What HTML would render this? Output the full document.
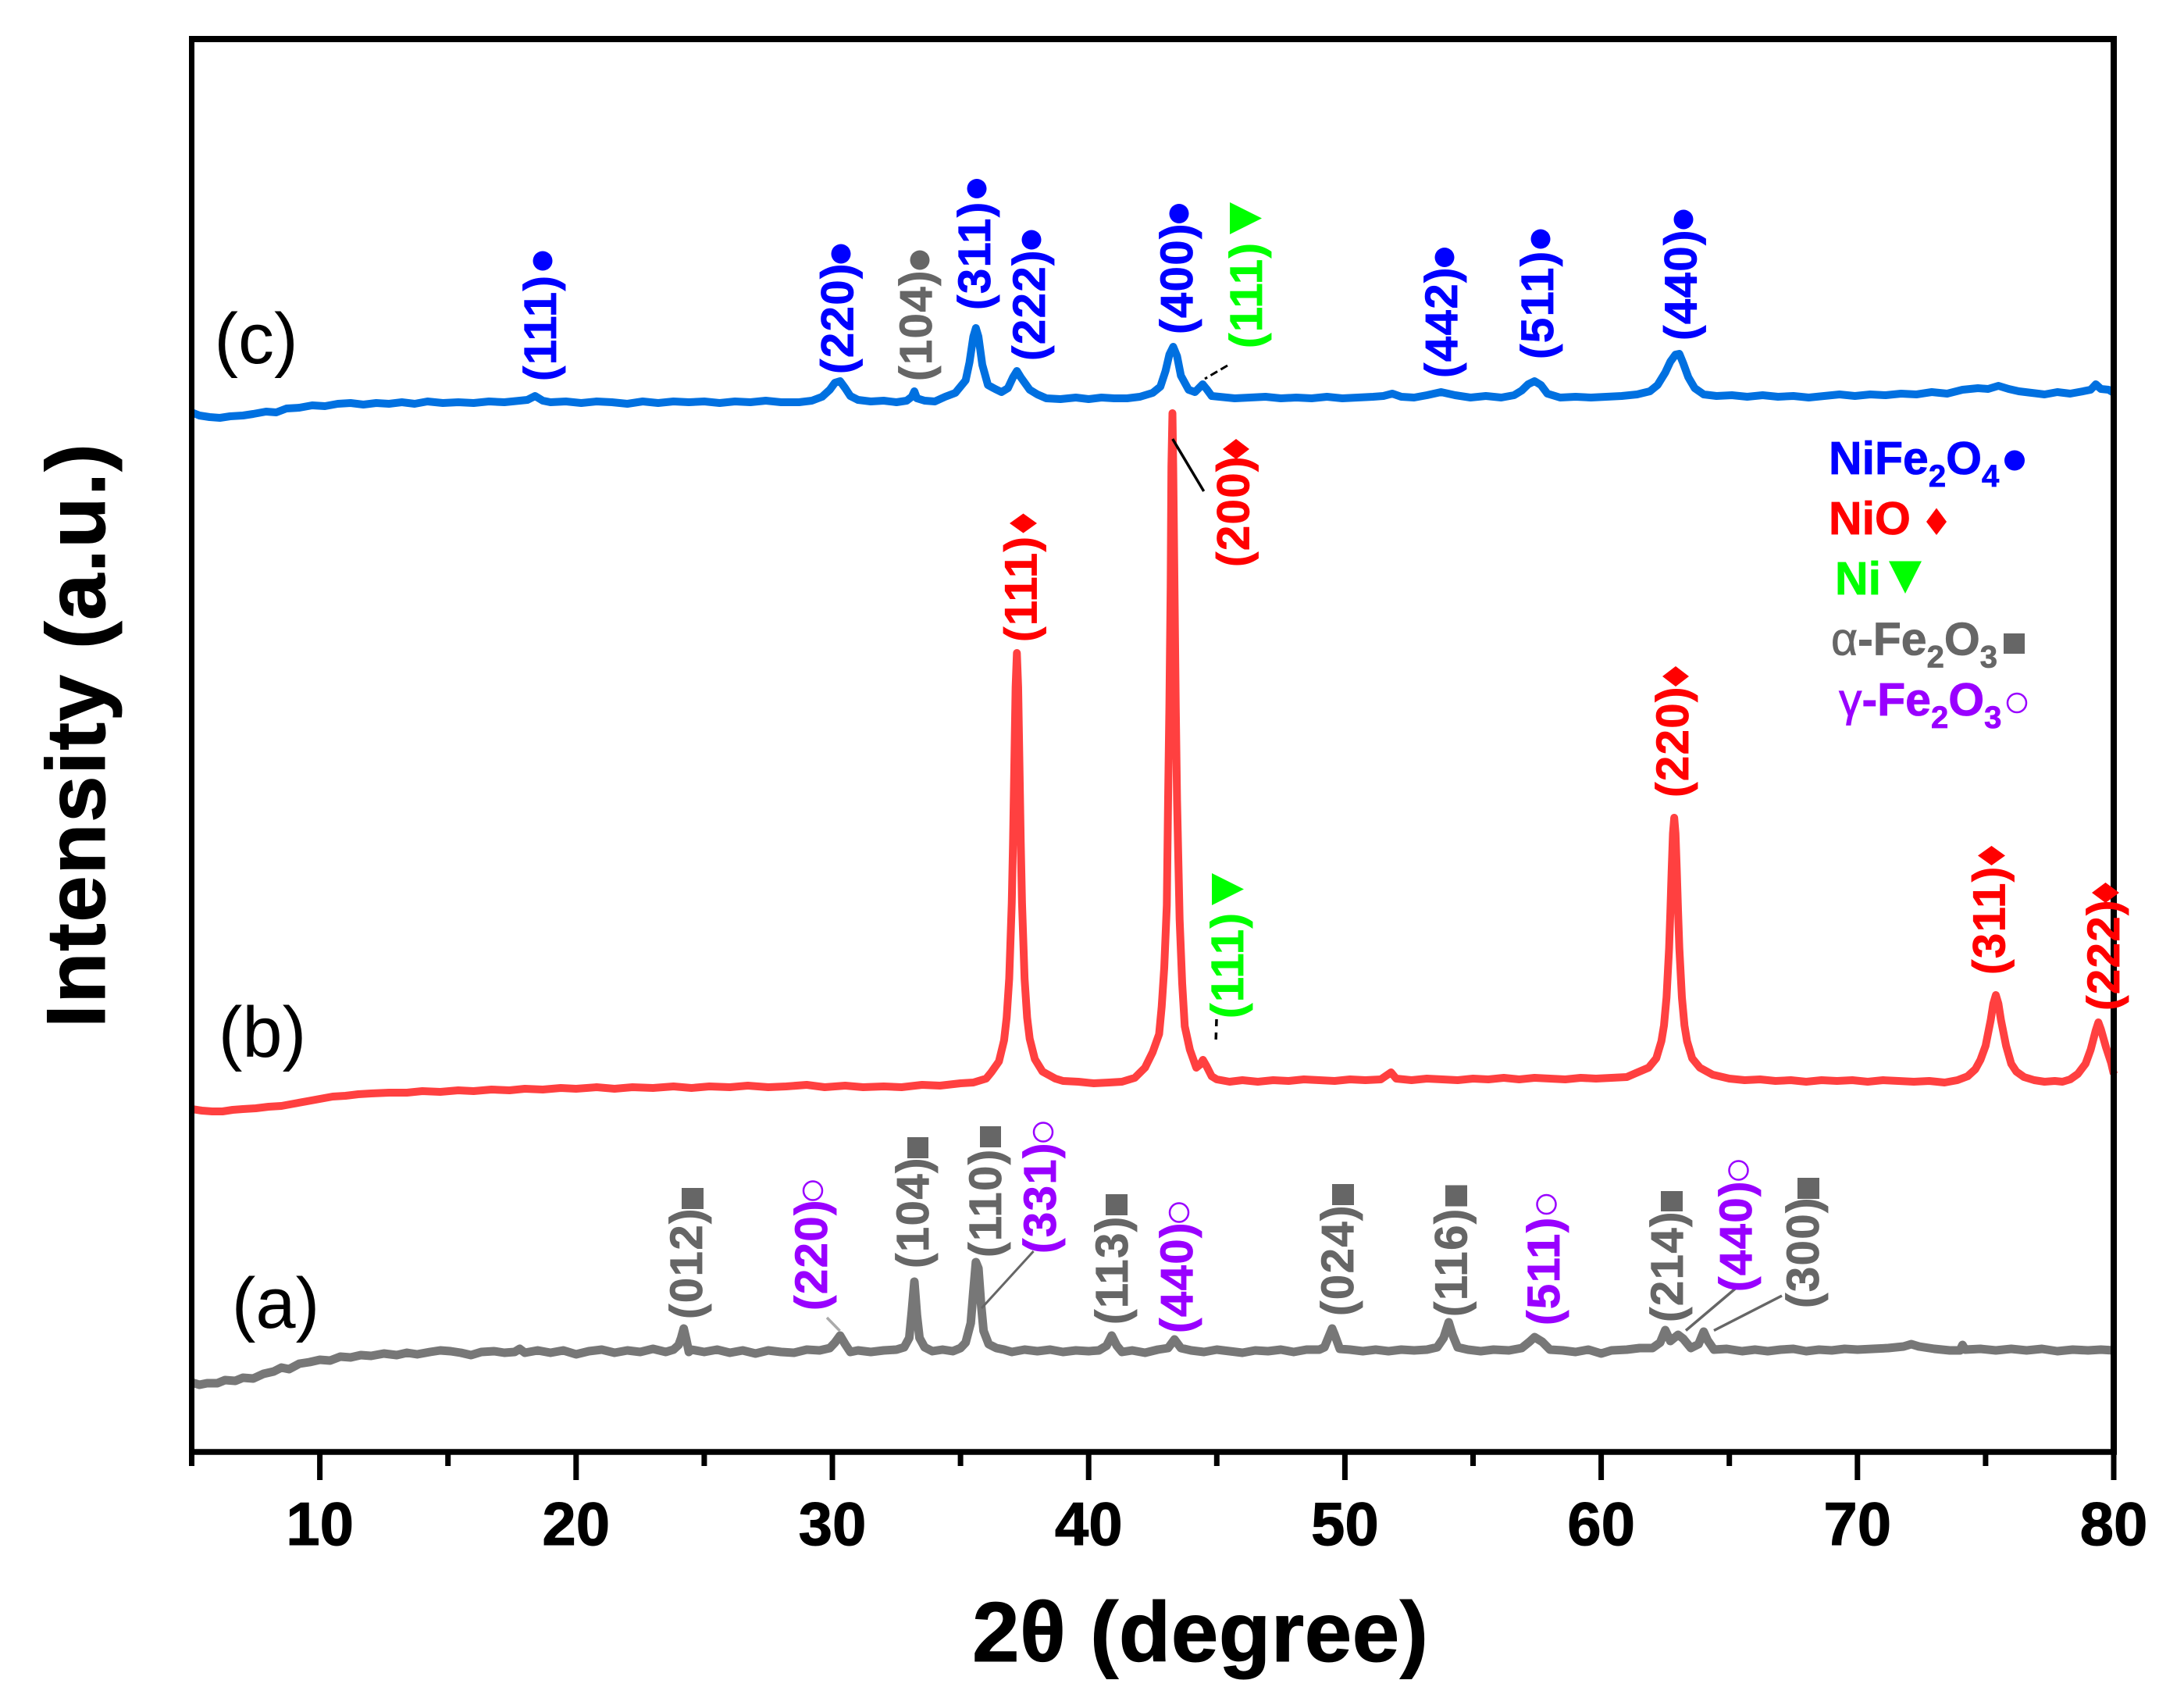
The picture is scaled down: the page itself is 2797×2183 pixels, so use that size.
<!DOCTYPE html>
<html lang="en">
<head>
<meta charset="utf-8">
<title>XRD patterns</title>
<style>
html,body{margin:0;padding:0;background:#fff;width:2797px;height:2183px;overflow:hidden}
svg{display:block}
text{font-family:"Liberation Sans",sans-serif;font-weight:bold}
.pk{font-size:58px;letter-spacing:1.5px;stroke-width:.8px}
.bl{fill:#0000ff;stroke:#0000ff}.rd{fill:#ff0000;stroke:#ff0000}.gr{fill:#00ff00;stroke:#00ff00}.gy{fill:#666666;stroke:#666666}.pu{fill:#9900ff;stroke:#9900ff}
circle.bl,circle.gy,rect.gy,polygon.rd,polygon.gr,.leg{stroke-width:0}
.ring{fill:none;stroke:#9900ff;stroke-width:2.5}
.sub{font-size:40px}
.leg{font-size:59px;stroke-width:.8px}
.panel{font-size:92px;font-weight:normal;fill:#000;text-anchor:middle}
.ax-title{stroke:#000;stroke-width:1px}
</style>
</head>
<body>
<svg id="chart" xmlns="http://www.w3.org/2000/svg" width="2797" height="2183" viewBox="0 0 2797 2183">
<rect width="2797" height="2183" fill="#fff"/>
<g id="series"></g>
<g id="axes"></g>

<text class="ax-title" x="1245" y="2127" font-size="109" textLength="584" lengthAdjust="spacing">2θ (degree)</text>
<text class="ax-title" transform="translate(134,1316) rotate(-90)" font-size="107" textLength="748" lengthAdjust="spacing">Intensity (a.u.)</text>

<text class="panel" x="353" y="1700">(a)</text>
<text class="panel" x="336" y="1353">(b)</text>
<text class="panel" x="328" y="465">(c)</text>

<!-- leader lines -->
<g fill="none">
<line x1="1257" y1="1675" x2="1323.6" y2="1602" stroke="#666" stroke-width="3"/>
<line x1="1059" y1="1687" x2="1075.6" y2="1704" stroke="#aaa" stroke-width="3.5"/>
<line x1="2227" y1="1646" x2="2159" y2="1703.5" stroke="#666" stroke-width="3.5"/>
<line x1="2282" y1="1659" x2="2195" y2="1703.5" stroke="#666" stroke-width="3.5"/>
<line x1="1501.7" y1="562" x2="1541.7" y2="629" stroke="#000" stroke-width="3.5"/>
<line x1="1572" y1="468" x2="1543" y2="485" stroke="#000" stroke-width="3" stroke-dasharray="10 5"/>
<line x1="1558" y1="1305" x2="1557" y2="1337" stroke="#000" stroke-width="3.5" stroke-dasharray="9 8"/>
</g>

<!-- peak labels, pattern (a) -->
<g>
<text class="pk gy" transform="translate(899,1689) rotate(-90)">(012)</text>
<rect class="gy" x="873" y="1521" width="28" height="27"/>
<text class="pk pu" transform="translate(1059,1678) rotate(-90)">(220)</text>
<circle class="ring" cx="1041" cy="1524.5" r="12"/>
<text class="pk gy" transform="translate(1189,1624) rotate(-90)">(104)</text>
<rect class="gy" x="1162" y="1456" width="27" height="27"/>
<text class="pk gy" transform="translate(1282,1610) rotate(-90)">(110)</text>
<rect class="gy" x="1255" y="1442" width="27" height="27"/>
<text class="pk pu" transform="translate(1352,1605) rotate(-90)">(331)</text>
<circle class="ring" cx="1336" cy="1449.5" r="12"/>
<text class="pk gy" transform="translate(1444,1696) rotate(-90)">(113)</text>
<rect class="gy" x="1416" y="1529" width="28" height="27"/>
<text class="pk pu" transform="translate(1527,1707) rotate(-90)">(440)</text>
<circle class="ring" cx="1510" cy="1552.5" r="12"/>
<text class="pk gy" transform="translate(1733,1685) rotate(-90)">(024)</text>
<rect class="gy" x="1706" y="1516" width="28" height="27"/>
<text class="pk gy" transform="translate(1878.5,1686) rotate(-90)">(116)</text>
<rect class="gy" x="1851" y="1517.5" width="28" height="27"/>
<text class="pk pu" transform="translate(1997,1697) rotate(-90)">(511)</text>
<circle class="ring" cx="1980.5" cy="1542" r="12"/>
<text class="pk gy" transform="translate(2155,1693) rotate(-90)">(214)</text>
<rect class="gy" x="2127" y="1525" width="28" height="26"/>
<text class="pk pu" transform="translate(2243,1654) rotate(-90)">(440)</text>
<circle class="ring" cx="2226.5" cy="1498.5" r="12"/>
<text class="pk gy" transform="translate(2329,1675) rotate(-90)">(300)</text>
<rect class="gy" x="2302" y="1508" width="28" height="27"/>
</g>

<!-- peak labels, pattern (b) -->
<g>
<text class="pk rd" transform="translate(1327.5,822) rotate(-90)">(111)</text>
<polygon class="rd" points="1293,670 1310.5,657.5 1328,670 1310.5,682.5"/>
<text class="pk rd" transform="translate(1599.5,726) rotate(-90)">(200)</text>
<polygon class="rd" points="1566,575 1583,562 1600,575 1583,588"/>
<text class="pk gr" transform="translate(1592,1304) rotate(-90)">(111)</text>
<polygon class="gr" points="1552,1118 1552,1159 1593,1138.5"/>
<text class="pk rd" transform="translate(2162,1021) rotate(-90)">(220)</text>
<polygon class="rd" points="2129,866 2146,853 2163,866 2146,879"/>
<text class="pk rd" transform="translate(2567.5,1248) rotate(-90)">(311)</text>
<polygon class="rd" points="2533,1095.5 2550.5,1083 2568,1095.5 2550.5,1108"/>
<text class="pk rd" transform="translate(2714,1294) rotate(-90)">(222)</text>
<polygon class="rd" points="2679,1143 2696.5,1130 2714,1143 2696.5,1156"/>
</g>

<!-- peak labels, pattern (c) -->
<g>
<text class="pk bl" transform="translate(712,488) rotate(-90)">(111)</text>
<circle class="bl" cx="695" cy="334" r="12.5"/>
<text class="pk bl" transform="translate(1092.7,479) rotate(-90)">(220)</text>
<circle class="bl" cx="1077" cy="325" r="12.5"/>
<text class="pk gy" transform="translate(1193,488) rotate(-90)">(104)</text>
<circle class="gy" cx="1178" cy="333" r="12.5"/>
<text class="pk bl" transform="translate(1268,397) rotate(-90)">(311)</text>
<circle class="bl" cx="1251" cy="241.5" r="12.5"/>
<text class="pk bl" transform="translate(1338,462) rotate(-90)">(222)</text>
<circle class="bl" cx="1321" cy="307" r="12.5"/>
<text class="pk bl" transform="translate(1527,428) rotate(-90)">(400)</text>
<circle class="bl" cx="1510" cy="273.5" r="12.5"/>
<text class="pk gr" transform="translate(1616,446) rotate(-90)">(111)</text>
<polygon class="gr" points="1575,259 1575,300 1616,279.5"/>
<text class="pk bl" transform="translate(1866,484) rotate(-90)">(442)</text>
<circle class="bl" cx="1850" cy="329.5" r="12.5"/>
<text class="pk bl" transform="translate(1989,460) rotate(-90)">(511)</text>
<circle class="bl" cx="1973" cy="306" r="12.5"/>
<text class="pk bl" transform="translate(2172.6,436) rotate(-90)">(440)</text>
<circle class="bl" cx="2156" cy="281" r="12.5"/>
</g>

<!-- legend -->
<g>
<g>
<text class="leg bl" x="2342" y="607">NiFe<tspan class="sub" dy="16">2</tspan><tspan dy="-16">O</tspan><tspan class="sub" dy="16">4</tspan></text>
<circle class="bl" cx="2580" cy="589.5" r="13"/>
</g>
<g>
<text class="leg rd" x="2342" y="684">NiO</text>
<polygon class="rd" points="2467,668 2480,650.5 2493,668 2480,685"/>
</g>
<g>
<text class="leg gr" x="2350" y="761">Ni</text>
<polygon class="gr" points="2419,718.5 2461,718.5 2440,760"/>
</g>
<g>
<text class="leg gy" x="2345" y="838.5"><tspan font-weight="normal">α</tspan>-Fe<tspan class="sub" dy="16">2</tspan><tspan dy="-16">O</tspan><tspan class="sub" dy="16">3</tspan></text>
<rect class="gy" x="2566" y="811" width="27" height="26"/>
</g>
<g>
<text class="leg pu" x="2355" y="916"><tspan font-weight="normal">γ</tspan>-Fe<tspan class="sub" dy="16">2</tspan><tspan dy="-16">O</tspan><tspan class="sub" dy="16">3</tspan></text>
<circle class="ring" cx="2583" cy="900" r="12"/>
</g>
</g>
</svg>

<script>
// Tick values
const majorTicks = [10, 20, 30, 40, 50, 60, 70, 80];
const minorTicks = [5, 15, 25, 35, 45, 55, 65, 75];
const tickLabels = ["10", "20", "30", "40", "50", "60", "70", "80"];

// Pattern (a): [2theta, intensity]
const patternA = [[5,89],[5.3,86],[5.6,88],[6,88],[6.3,92],[6.7,91],[7,95],[7.4,94],[7.8,100],[8.2,103],[8.5,108],[8.8,106],[9.2,113],[9.6,115],[10,118],[10.4,117],[10.8,122],[11.2,121],[11.6,124],[12,123],[12.5,126],[13,124],[13.4,127],[13.8,125],[14.3,128],[14.7,130],[15.1,129],[15.5,127],[15.9,124],[16.3,128],[16.8,129],[17.2,127],[17.6,128],[17.8,132],[18,127],[18.5,130],[19,127],[19.5,130],[20,125],[20.5,129],[21,131],[21.5,127],[22,130],[22.5,128],[23,132],[23.5,128],[23.8,131],[24,137],[24.1,146],[24.2,158],[24.3,144],[24.4,128],[24.5,131],[25,128],[25.5,131],[26,127],[26.5,130],[27,126],[27.5,130],[28,128],[28.5,127],[29,131],[29.5,130],[29.9,133],[30.1,140],[30.3,149],[30.5,138],[30.7,128],[31,130],[31.5,128],[32,130],[32.5,131],[32.8,134],[33,146],[33.1,180],[33.2,218],[33.3,175],[33.4,146],[33.6,134],[33.9,129],[34.3,131],[34.7,129],[35,133],[35.2,140],[35.4,165],[35.5,205],[35.6,243],[35.7,235],[35.8,190],[35.9,155],[36.1,138],[36.4,133],[36.7,131],[37,128],[37.5,131],[38,129],[38.5,131],[39,128],[39.5,130],[40,129],[40.4,130],[40.7,136],[40.9,149],[41.1,136],[41.3,128],[41.7,130],[42.2,127],[42.7,131],[43.1,133],[43.35,144],[43.6,133],[44,130],[44.5,128],[45,131],[45.5,129],[46,127],[46.5,130],[47,129],[47.5,131],[48,128],[48.5,131],[49,131],[49.2,134],[49.4,150],[49.5,158],[49.6,150],[49.8,132],[50.2,131],[50.7,129],[51.2,131],[51.7,129],[52.2,131],[52.7,130],[53.2,131],[53.6,134],[53.85,146],[54.05,166],[54.2,150],[54.4,134],[54.8,131],[55.3,129],[55.8,131],[56.4,130],[56.9,133],[57.2,141],[57.4,147],[57.7,141],[58,131],[58.5,130],[59,128],[59.5,131],[60,126],[60.4,130],[61,131],[61.5,133],[62,133],[62.3,140],[62.5,156],[62.7,142],[63,150],[63.2,145],[63.5,133],[63.8,138],[64,154],[64.15,143],[64.4,131],[64.9,132],[65.5,129],[66,131],[66.5,129],[67,131],[67.5,132],[68,129],[68.5,131],[69,130],[69.5,132],[70,131],[70.6,132],[71.2,133],[71.8,135],[72.1,138],[72.4,135],[73,132],[73.6,130],[74,130],[74.1,137],[74.2,131],[74.8,132],[75.4,130],[76,132],[76.6,130],[77.2,132],[77.8,129],[78.4,131],[79,130],[79.5,131],[80,130]];

// Pattern (b): [2theta, intensity]
const patternB = [[5,439],[5.4,437],[5.8,436],[6.2,436],[6.6,438],[7,439],[7.5,440],[8,442],[8.5,443],[9,446],[9.5,449],[10,452],[10.5,455],[11,456],[11.5,458],[12,459],[12.7,460],[13.4,460],[14,462],[14.7,461],[15.4,463],[16,462],[16.7,464],[17.4,463],[18,465],[18.7,464],[19.4,466],[20,465],[20.8,467],[21.5,465],[22.2,467],[23,466],[23.8,468],[24.5,466],[25.2,468],[26,467],[26.7,469],[27.5,467],[28.2,468],[29,470],[29.7,467],[30.5,469],[31.2,467],[32,468],[32.7,467],[33.5,470],[34.2,469],[35,472],[35.5,473],[36,478],[36.2,486],[36.5,500],[36.7,527],[36.8,556],[36.9,606],[37,703],[37.05,781],[37.1,880],[37.15,979],[37.2,1023],[37.25,979],[37.3,880],[37.35,781],[37.4,703],[37.5,606],[37.6,556],[37.7,529],[37.9,503],[38.2,487],[38.7,478],[39,475],[39.6,474],[40.2,472],[40.8,473],[41.3,474],[41.8,479],[42.2,492],[42.5,512],[42.75,535],[42.85,570],[42.95,620],[43.05,700],[43.1,834],[43.15,953],[43.2,1107],[43.23,1262],[43.27,1330],[43.3,1262],[43.35,1107],[43.4,953],[43.45,834],[43.55,682],[43.65,600],[43.75,545],[43.95,515],[44.2,492],[44.35,496],[44.46,502],[44.6,494],[44.8,481],[45,477],[45.5,474],[46,476],[46.6,474],[47.2,476],[47.8,475],[48.4,477],[49,476],[49.6,475],[50.2,477],[50.8,476],[51.4,477],[51.8,486],[52,478],[52.6,476],[53.2,478],[53.8,477],[54.4,476],[55,478],[55.6,477],[56.2,479],[56.8,477],[57.4,479],[58,478],[58.6,477],[59.2,479],[59.8,478],[60.4,479],[61,480],[61.35,485],[61.85,492],[62.15,504],[62.35,526],[62.45,546],[62.55,582],[62.65,645],[62.7,692],[62.75,745],[62.8,792],[62.85,812],[62.9,792],[62.95,745],[63,692],[63.05,645],[63.15,582],[63.25,546],[63.35,526],[63.55,504],[63.85,492],[64.35,483],[65,478],[65.6,476],[66.2,477],[66.8,475],[67.4,476],[68,474],[68.6,476],[69.2,475],[69.8,476],[70.4,474],[71,476],[71.6,475],[72.2,474],[72.8,475],[73.4,473],[73.9,476],[74.3,481],[74.6,490],[74.8,502],[75,520],[75.2,553],[75.3,574],[75.4,585],[75.5,574],[75.6,553],[75.8,520],[76,497],[76.2,487],[76.5,480],[76.9,476],[77.3,474],[77.7,475],[78,474],[78.3,477],[78.6,484],[78.9,497],[79.1,515],[79.3,540],[79.4,550],[79.5,541],[79.7,518],[79.9,498],[80,484]];

// Pattern (c): [2theta, intensity]
const patternC = [[5,1331],[5.3,1327],[5.7,1325],[6.1,1324],[6.5,1326],[7,1327],[7.4,1329],[7.9,1332],[8.3,1331],[8.7,1336],[9.2,1337],[9.7,1340],[10.2,1339],[10.7,1342],[11.2,1343],[11.7,1341],[12.2,1343],[12.7,1342],[13.2,1344],[13.7,1342],[14.2,1345],[14.8,1343],[15.4,1344],[16,1343],[16.6,1345],[17.2,1344],[17.8,1346],[18.1,1347],[18.4,1352],[18.7,1346],[19,1344],[19.6,1345],[20.2,1343],[20.8,1345],[21.4,1344],[22,1342],[22.6,1345],[23.2,1343],[23.8,1345],[24.4,1344],[25,1345],[25.6,1343],[26.2,1345],[26.8,1344],[27.4,1346],[28,1344],[28.7,1344],[29.2,1346],[29.6,1351],[29.9,1360],[30.1,1369],[30.3,1371],[30.5,1362],[30.7,1352],[31,1347],[31.5,1345],[32,1346],[32.5,1344],[32.9,1346],[33.1,1351],[33.2,1358],[33.3,1349],[33.6,1346],[34,1345],[34.4,1351],[34.8,1356],[35.2,1372],[35.35,1395],[35.5,1428],[35.6,1439],[35.7,1428],[35.85,1392],[36.07,1366],[36.35,1361],[36.6,1357],[36.85,1362],[37.05,1376],[37.2,1384],[37.35,1376],[37.7,1360],[38,1354],[38.35,1349],[38.9,1348],[39.5,1350],[40,1348],[40.5,1350],[41,1349],[41.5,1349],[42,1351],[42.5,1356],[42.8,1364],[43,1384],[43.15,1405],[43.3,1415],[43.45,1403],[43.6,1378],[43.9,1360],[44.15,1357],[44.3,1362],[44.45,1367],[44.6,1361],[44.8,1352],[45.1,1351],[45.7,1349],[46.3,1350],[46.9,1351],[47.5,1349],[48.1,1350],[48.7,1349],[49.3,1351],[49.9,1349],[50.5,1350],[51.1,1351],[51.5,1352],[51.85,1355],[52.2,1351],[52.7,1350],[53.2,1353],[53.75,1357],[54.3,1353],[54.9,1350],[55.5,1352],[56.1,1350],[56.6,1353],[56.9,1359],[57.15,1367],[57.4,1371],[57.65,1366],[57.9,1355],[58.4,1350],[59,1351],[59.6,1350],[60.2,1351],[60.8,1352],[61.4,1354],[61.9,1358],[62.2,1366],[62.5,1382],[62.7,1396],[62.9,1405],[63.05,1406],[63.2,1394],[63.4,1376],[63.65,1362],[64,1354],[64.5,1352],[65.1,1353],[65.7,1351],[66.3,1353],[66.9,1351],[67.5,1352],[68.1,1350],[68.7,1352],[69.3,1354],[69.9,1352],[70.5,1354],[71.1,1353],[71.7,1355],[72.3,1354],[72.9,1357],[73.5,1355],[74.1,1360],[74.7,1362],[75.1,1361],[75.5,1365],[75.9,1361],[76.3,1358],[76.8,1356],[77.3,1354],[77.8,1357],[78.3,1355],[78.8,1358],[79.1,1360],[79.3,1367],[79.5,1361],[79.8,1360],[80,1356]];

const xDomain = [5, 80];
const yDomain = [0, 1809];
const SVGNS = 'http://www.w3.org/2000/svg';
const plotLeft = 245.5, plotRight = 2707, plotTop = 50, plotBottom = 1859;

function xScale(v) {
  return plotLeft + (v - xDomain[0]) / (xDomain[1] - xDomain[0]) * (plotRight - plotLeft);
}
function yScale(v) {
  return plotBottom - (v - yDomain[0]) / (yDomain[1] - yDomain[0]) * (plotBottom - plotTop);
}
function pathFrom(points) {
  return points.map(function (p, i) {
    return (i ? 'L' : 'M') + xScale(p[0]).toFixed(2) + ' ' + yScale(p[1]).toFixed(2);
  }).join('');
}
function drawLine(parent, x1, y1, x2, y2, w) {
  const l = document.createElementNS(SVGNS, 'line');
  l.setAttribute('x1', x1);
  l.setAttribute('y1', y1);
  l.setAttribute('x2', x2);
  l.setAttribute('y2', y2);
  l.setAttribute('stroke', '#000');
  l.setAttribute('stroke-width', w);
  parent.appendChild(l);
  return l;
}

const seriesGroup = document.getElementById('series');
const axesGroup = document.getElementById('axes');

const lineA = document.createElementNS(SVGNS, 'path');
lineA.setAttribute('d', pathFrom(patternA));
lineA.setAttribute('fill', 'none');
lineA.setAttribute('stroke', '#777777');
lineA.setAttribute('stroke-width', '11');
lineA.setAttribute('stroke-linejoin', 'round');


seriesGroup.appendChild(lineA);

const lineB = document.createElementNS(SVGNS, 'path');
lineB.setAttribute('d', pathFrom(patternB));
lineB.setAttribute('fill', 'none');
lineB.setAttribute('stroke', '#ff4040');
lineB.setAttribute('stroke-width', '10');
lineB.setAttribute('stroke-linejoin', 'round');


seriesGroup.appendChild(lineB);

const lineC = document.createElementNS(SVGNS, 'path');
lineC.setAttribute('d', pathFrom(patternC));
lineC.setAttribute('fill', 'none');
lineC.setAttribute('stroke', '#0070e0');
lineC.setAttribute('stroke-width', '10');
lineC.setAttribute('stroke-linejoin', 'round');


seriesGroup.appendChild(lineC);

const frameTop = drawLine(axesGroup, plotLeft - 3.5, plotTop, plotRight + 4, plotTop, 8);


const frameLeft = drawLine(axesGroup, plotLeft, plotTop - 4, plotLeft, plotBottom, 7);


const frameRight = drawLine(axesGroup, plotRight, plotTop - 4, plotRight, plotBottom, 8);


const frameBottom = drawLine(axesGroup, plotLeft - 3.5, plotBottom, plotRight + 4, plotBottom, 7.5);



majorTicks.forEach(function (v, i) {
  const t = drawLine(axesGroup, xScale(v), plotBottom, xScale(v), 1895, 7);
  
  
  const label = document.createElementNS(SVGNS, 'text');
  label.setAttribute('x', xScale(v));
  label.setAttribute('y', 1978);
  label.setAttribute('text-anchor', 'middle');
  label.setAttribute('font-size', '78');
  label.setAttribute('stroke', '#000');
  label.setAttribute('stroke-width', '1');
  
  
  label.textContent = tickLabels[i];
  axesGroup.appendChild(label);
});
minorTicks.forEach(function (v) {
  const t = drawLine(axesGroup, xScale(v), plotBottom, xScale(v), 1877, 7);
  
  
});
</script>
</body>
</html>
